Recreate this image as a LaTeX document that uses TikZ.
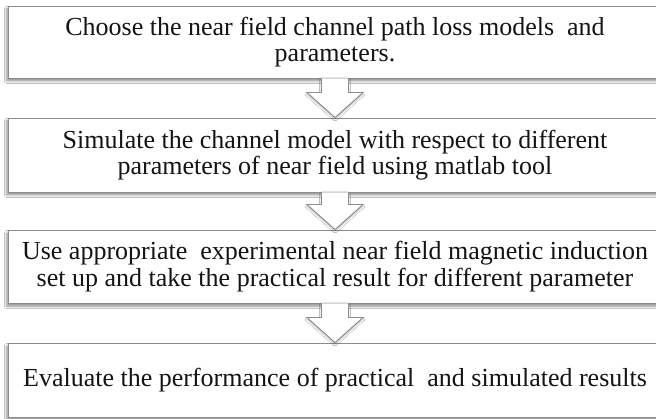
\documentclass[tikz,border=0pt]{standalone}
\usepackage{fontspec}
\setmainfont{Liberation Serif}
\usetikzlibrary{calc,shadows.blur}
\definecolor{edgegray}{HTML}{8C8C8C}
\definecolor{txtcol}{HTML}{141414}
\tikzset{
  stepbox/.style={draw=edgegray, line width=0.9pt, fill=white,
    minimum width=654pt, minimum height=#1, inner sep=0pt,
    align=center, text=txtcol,
    font=\fontsize{26pt}{26.5pt}\selectfont,
    blur shadow={shadow xshift=-1.2pt, shadow yshift=-3pt, shadow blur steps=6, shadow opacity=45, shadow blur radius=2.5pt}},
  stepbox/.default=73pt,
  arrowfill/.style={fill=white, blur shadow={shadow xshift=0pt, shadow yshift=-1.5pt, shadow blur steps=5, shadow opacity=30, shadow blur radius=2pt}},
  arrowline/.style={draw=edgegray, line width=0.9pt, line join=miter}
}
\newcommand\flowarrow[2]{%
  \coordinate (#1-sl) at ([xshift=-13.5pt]#1.south);
  \coordinate (#1-sr) at ([xshift=13.5pt]#1.south);
  \coordinate (#2-hc) at ([yshift=25pt]#2.north);
  \coordinate (#2-hl) at ([xshift=-28pt,yshift=25pt]#2.north);
  \coordinate (#2-hr) at ([xshift=28pt,yshift=25pt]#2.north);
  \path[arrowfill] (#1-sl) -- (#1-sl |- #2-hc) -- (#2-hl) -- (#2.north) -- (#2-hr)
    -- (#1-sr |- #2-hc) -- (#1-sr) -- cycle;
  \draw[arrowline] (#1-sl) -- (#1-sl |- #2-hc) -- (#2-hl) -- (#2.north) -- (#2-hr)
    -- (#1-sr |- #2-hc) -- (#1-sr);}
\begin{document}
\begin{tikzpicture}[x=1pt,y=1pt]
\useasboundingbox[fill=white] (0,0) rectangle (656,-419);
\node[stepbox=72pt] (b1) at (335,-42) {Choose the near field channel path loss models~ and\\parameters.};
\node[stepbox=74pt] (b2) at (335,-155) {Simulate the channel model with respect to different\\parameters of near field using matlab tool};
\node[stepbox=73pt] (b3) at (335,-266.5) {Use appropriate~ experimental near field magnetic induction\\set up and take the practical result for different parameter};
\node[stepbox=74pt] (b4) at (335,-380) {Evaluate the performance of practical~ and simulated results};
\flowarrow{b1}{b2}
\flowarrow{b2}{b3}
\flowarrow{b3}{b4}
\end{tikzpicture}
\end{document}
